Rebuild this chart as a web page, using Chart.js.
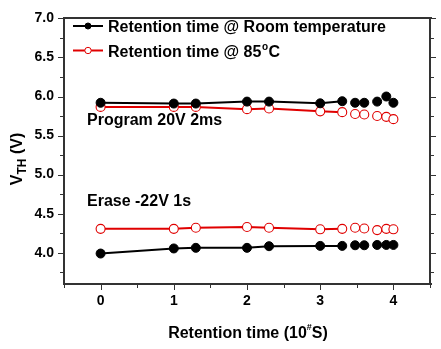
<!DOCTYPE html>
<html>
<head>
<meta charset="utf-8">
<script src="https://cdn.jsdelivr.net/npm/chart.js@4/dist/chart.umd.min.js"></script>
<style>
  body { margin: 0; background: #fff; }
</style>
</head>
<body>
<canvas id="c" width="441" height="349"></canvas>
<script>
// retention time, log10 of seconds
const xTimes = [0, 1, 1.301, 2, 2.301, 3, 3.301, 3.477, 3.602, 3.778, 3.903, 4]

// program state (20V 2ms)
const progRoom = [5.92, 5.91, 5.91, 5.935, 5.935, 5.913, 5.94, 5.92, 5.92, 5.935, 6.0, 5.92]
const prog85 = [5.867, 5.867, 5.867, 5.838, 5.847, 5.81, 5.80, 5.776, 5.77, 5.75, 5.74, 5.71]

// erase state (-22V 1s)
const eraseRoom = [3.99, 4.055, 4.063, 4.063, 4.084, 4.088, 4.088, 4.096, 4.096, 4.10, 4.10, 4.10]
const erase85 = [4.306, 4.306, 4.32, 4.33, 4.32, 4.30, 4.306, 4.32, 4.31, 4.29, 4.306, 4.30]

const xTickLabels = ['0', '1', '2', '3', '4']
const yTickLabels = ['4.0', '4.5', '5.0', '5.5', '6.0', '6.5', '7.0']

const legendLabels = ['Retention time @ Room temperature', 'Retention time @ 85', 'C']
const noteProgram = 'Program 20V 2ms'
const noteErase = 'Erase -22V 1s'

const FONT = '"Liberation Sans", Arial, sans-serif'

function toXY(ys) {
    let pts = []
    ys.forEach(function (v, i) {
        pts.push({x: xTimes[i], y: v})
    })
    return pts
}

// lines stop after 10^3.3 s, later points are markers only
const lineUntil = 3.31
function segColor(color) {
    return function (ctx) {
        return ctx.p1.parsed.x > lineUntil ? 'rgba(0,0,0,0)' : color
    }
}

function makeSet(ys, color, filled) {
    return {
        data: toXY(ys),
        borderColor: color,
        borderWidth: 2,
        pointRadius: 4.5,
        pointBorderWidth: filled ? 1 : 1.1,
        pointBackgroundColor: filled ? color : '#fff',
        pointBorderColor: color,
        segment: { borderColor: segColor(color) }
    }
}

// frame + ticks on all four sides, titles, legend, notes
const decorations = {
    id: 'decorations',
    afterDraw(chart) {
        const ctx = chart.ctx
        const xs = chart.scales.x
        const ys = chart.scales.y
        const a = chart.chartArea
        const L = Math.round(a.left), R = Math.round(a.right)
        const T = Math.round(a.top), B = Math.round(a.bottom)
        ctx.save()
        ctx.fillStyle = '#333'
        // frame as filled strips
        ctx.fillRect(L - 1, T - 1, R - L + 3, 2)
        ctx.fillRect(L - 1, B - 1, R - L + 3, 2)
        ctx.fillRect(L - 1, T - 1, 2, B - T + 2)
        ctx.fillRect(R - 1, T - 1, 2, B - T + 2)

        for (let v = -0.5; v <= 4.5001; v += 0.5) {
            const px = Math.round(xs.getPixelForValue(v))
            const len = Number.isInteger(v) ? 5 : 3
            ctx.fillRect(px, B, 1, len + 1)
        }
        for (let v = 3.75; v <= 7.0001; v += 0.25) {
            const py = Math.round(ys.getPixelForValue(v))
            const len = (Math.round(v * 100) % 50 === 0) ? 5 : 3
            ctx.fillRect(L - len - 1, py, len, 1)
            ctx.fillRect(R + 1, py, len, 1)
        }

        ctx.fillStyle = '#000'
        ctx.textBaseline = 'alphabetic'

        // x title with superscript
        const t1 = 'Retention time (10', t3 = 'S)'
        ctx.font = 'bold 16px ' + FONT
        const w1 = ctx.measureText(t1).width
        const w3 = ctx.measureText(t3).width
        ctx.font = 'bold 9px ' + FONT
        const w2 = ctx.measureText('#').width
        let x0 = 248 - (w1 + w2 + w3) / 2
        const by = 338
        ctx.font = 'bold 16px ' + FONT
        ctx.fillText(t1, x0, by)
        ctx.font = 'bold 9px ' + FONT
        ctx.fillText('#', x0 + w1, by - 8)
        ctx.font = 'bold 16px ' + FONT
        ctx.fillText(t3, x0 + w1 + w2, by)

        // y title with subscript, rotated
        ctx.save()
        ctx.translate(22, 159)
        ctx.rotate(-Math.PI / 2)
        ctx.font = 'bold 16px ' + FONT
        const wv = ctx.measureText('V').width
        const wr = ctx.measureText(' (V)').width
        ctx.font = 'bold 12px ' + FONT
        const wt = ctx.measureText('TH').width
        let yx = -(wv + wt + wr) / 2
        ctx.font = 'bold 16px ' + FONT
        ctx.fillText('V', yx, 0)
        ctx.font = 'bold 12px ' + FONT
        ctx.fillText('TH', yx + wv, 4)
        ctx.font = 'bold 16px ' + FONT
        ctx.fillText(' (V)', yx + wv + wt, 0)
        ctx.restore()

        // legend
        const rows = [
            {y: 26, color: '#000', filled: true},
            {y: 50.5, color: '#e00000', filled: false}
        ]
        rows.forEach(function (r, i) {
            ctx.strokeStyle = r.color
            ctx.lineWidth = 2
            ctx.beginPath()
            ctx.moveTo(73, r.y)
            ctx.lineTo(103, r.y)
            ctx.stroke()
            ctx.beginPath()
            ctx.arc(88, r.y, r.filled ? 3 : 3.2, 0, Math.PI * 2)
            ctx.fillStyle = r.filled ? r.color : '#fff'
            ctx.fill()
            ctx.lineWidth = 1
            ctx.stroke()
            ctx.fillStyle = '#000'
            ctx.font = 'bold 16px ' + FONT
            ctx.fillText(legendLabels[i], 108, r.y + 6)
            if (i === 1) {
                const w = ctx.measureText(legendLabels[1]).width
                ctx.font = 'bold 10px ' + FONT
                ctx.fillText('o', 108 + w + 0.5, r.y - 1)
                const wo = ctx.measureText('o').width
                ctx.font = 'bold 16px ' + FONT
                ctx.fillText(legendLabels[2], 108 + w + wo + 1, r.y + 6)
            }
        })

        // notes
        ctx.font = 'bold 16px ' + FONT
        ctx.fillText(noteProgram, 87, 125)
        ctx.fillText(noteErase, 87, 206)
        ctx.restore()
    }
}

new Chart(document.getElementById('c'), {
    type: 'line',
    data: {
        datasets: [
            makeSet(progRoom, '#000', true),
            makeSet(prog85, '#e00000', false),
            makeSet(eraseRoom, '#000', true),
            makeSet(erase85, '#e00000', false)
        ]
    },
    options: {
        responsive: false,
        animation: false,
        layout: { padding: { top: 12, right: 11, left: 0, bottom: 0 } },
        plugins: {
            legend: { display: false },
            tooltip: { enabled: false }
        },
        scales: {
            x: {
                type: 'linear',
                min: -0.5,
                max: 4.5,
                afterFit: function (s) { s.height = 65 },
                afterBuildTicks: function (s) {
                    s.ticks = xTickLabels.map(function (t) { return {value: parseFloat(t)} })
                },
                grid: { display: false, tickLength: 0 },
                border: { display: false },
                ticks: {
                    padding: 9,
                    color: '#000',
                    font: { family: FONT, size: 14, weight: 'bold' },
                    callback: function (v) { return String(v) }
                }
            },
            y: {
                min: 3.6,
                max: 7.0,
                afterFit: function (s) { s.width = 64 },
                afterBuildTicks: function (s) {
                    s.ticks = yTickLabels.map(function (t) { return {value: parseFloat(t)} })
                },
                grid: { display: false, tickLength: 0 },
                border: { display: false },
                ticks: {
                    padding: 10,
                    color: '#000',
                    font: { family: FONT, size: 14, weight: 'bold' },
                    callback: function (v) { return v.toFixed(1) }
                }
            }
        }
    },
    plugins: [decorations]
})
</script>
</body>
</html>
